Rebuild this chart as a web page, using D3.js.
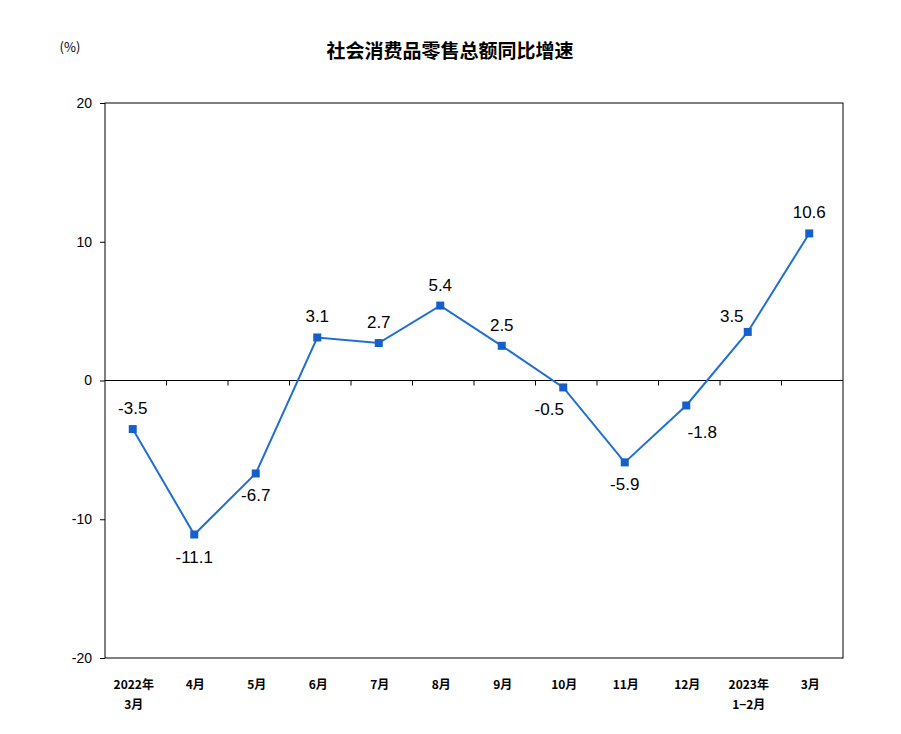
<!DOCTYPE html>
<html><head><meta charset="utf-8">
<script src="https://cdn.jsdelivr.net/npm/d3@7"></script>
<style>body{margin:0;background:#fff}</style></head>
<body><svg id="c" width="901" height="734"></svg>
<script>
const categories=["2022年\n3月","4月","5月","6月","7月","8月","9月","10月","11月","12月","2023年\n1−2月","3月"];
const values=[-3.5,-11.1,-6.7,3.1,2.7,5.4,2.5,-0.5,-5.9,-1.8,3.5,10.6];
const labelPos=["above","below","below","above","above","above","above","left","below","right","aboveleft","above"];
const yTicks=[-20,-10,0,10,20];
const svg=d3.select("#c");
const L=105,R=843,T=103,B=658;
const x=d3.scaleBand().domain(categories).range([L,R]);
const y=d3.scaleLinear().domain([-20,20]).range([B,T]);
const cjk="'Noto Sans CJK SC',sans-serif";
svg.append("text").attr("x",450).attr("y",58).attr("text-anchor","middle").attr("font-family",cjk).attr("font-size",19).attr("font-weight","bold").text("社会消费品零售总额同比增速");
svg.append("text").attr("x",70).attr("y",52).attr("text-anchor","middle").attr("font-family",cjk).attr("font-size",13).text("(%)");
svg.append("rect").attr("x",L).attr("y",T).attr("width",R-L).attr("height",B-T).attr("fill","none").attr("stroke","#000").attr("stroke-width",1);
const ya=svg.append("g").attr("transform",`translate(${L},0)`).call(d3.axisLeft(y).tickValues(yTicks).tickFormat(d=>String(d)).tickSize(5).tickPadding(8));
ya.select(".domain").remove();
ya.selectAll("text").attr("font-family","Arial,'Liberation Sans'").attr("font-size",14);
svg.append("line").attr("x1",L).attr("x2",R).attr("y1",y(0)).attr("y2",y(0)).attr("stroke","#000");
categories.slice(1).forEach(c=>{const xx=x(c);svg.append("line").attr("x1",xx).attr("x2",xx).attr("y1",y(0)).attr("y2",y(0)+5).attr("stroke","#000");});
categories.forEach(c=>{
  const lines=c.split("\n");
  lines.forEach((t,i)=>svg.append("text").attr("x",x(c)+x.bandwidth()/2-2).attr("y",B+31+i*20).attr("text-anchor","middle").attr("font-family",cjk).attr("font-size",12).attr("font-weight","bold").text(t));
});
const cx=c=>x(c)+x.bandwidth()/2-3;
const line=d3.line().x((d,i)=>cx(categories[i])).y(d=>y(d));
svg.append("path").datum(values).attr("d",line).attr("fill","none").attr("stroke","#1f6fd2").attr("stroke-width",2);
values.forEach((v,i)=>{
  const px=cx(categories[i]),py=y(v);
  svg.append("rect").attr("x",px-4).attr("y",py-4).attr("width",8).attr("height",8).attr("fill","#1560c8");
  let lx=px,ly=py-15;const p=labelPos[i];
  if(p==="below")ly=py+28;
  if(p==="left"){lx=px-14;ly=py+28;}
  if(p==="right"){lx=px+16;ly=py+33;}
  if(p==="aboveleft"){lx=px-16;ly=py-10;}
  svg.append("text").attr("x",lx).attr("y",ly).attr("text-anchor","middle").attr("font-family","Arial,'Liberation Sans'").attr("font-size",17).text(v.toFixed(1));
});
</script></body></html>
